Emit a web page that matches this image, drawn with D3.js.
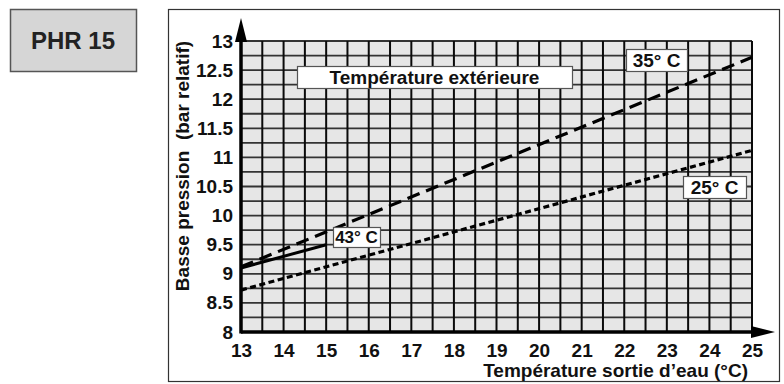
<!DOCTYPE html>
<html>
<head>
<meta charset="utf-8">
<script src="https://cdn.jsdelivr.net/npm/d3@7"></script>
<style>
body { margin: 0; background: #fff; }
text { font-family: "Liberation Sans", Arial, sans-serif; font-weight: bold; }
</style>
</head>
<body>
<svg class="chart" width="784" height="384"></svg>
<script>
// x ticks (water outlet temperature) and y ticks (low pressure)
var xTicks = [13, 14, 15, 16, 17, 18, 19, 20, 21, 22, 23, 24, 25];
var yTicks = [8, 8.5, 9, 9.5, 10, 10.5, 11, 11.5, 12, 12.5, 13];

// outdoor temperature curves
var line35 = [[13, 9.12], [25, 12.72]];
var line25 = [[13, 8.72], [25, 11.12]];
var line43 = [[13, 9.1], [15, 9.5]];

var pL = 241, pR = 752, pT = 41, pB = 332;

var x = d3.scaleLinear().domain([13, 25]).range([pL, pR]);
var y = d3.scaleLinear().domain([8, 13]).range([pB, pT]);

var svg = d3.select('.chart');

// title box
svg.append('rect')
    .attr('x', 10.5).attr('y', 9.5).attr('width', 126).attr('height', 62)
    .style('fill', '#d6d6d6').style('stroke', '#555').style('stroke-width', 1.5);
svg.append('text')
    .attr('x', 73).attr('y', 49)
    .attr('text-anchor', 'middle')
    .style('font-size', '24px').style('fill', '#222')
    .text('PHR 15');

// frame
svg.append('rect')
    .attr('x', 168.5).attr('y', 9.5).attr('width', 611).attr('height', 372)
    .style('fill', 'none').style('stroke', '#333').style('stroke-width', 1.2);

// plot background
svg.append('rect')
    .attr('x', pL).attr('y', pT)
    .attr('width', pR - pL).attr('height', pB - pT)
    .style('fill', '#e6e6e6');

// grid
var g = svg.append('g');
g.selectAll('.hgrid')
    .data(d3.range(8, 13.01, 0.25))
    .enter().append('line')
    .attr('x1', pL).attr('x2', pR)
    .attr('y1', function(d) { return y(d); })
    .attr('y2', function(d) { return y(d); })
    .style('stroke', '#333').style('stroke-width', 1.8);
g.selectAll('.vgrid')
    .data(d3.range(13, 25.01, 0.5))
    .enter().append('line')
    .attr('x1', function(d) { return x(d); })
    .attr('x2', function(d) { return x(d); })
    .attr('y1', pT).attr('y2', pB)
    .style('stroke', '#0a0a0a').style('stroke-width', 2);

// axes
var xAxis = d3.axisBottom(x).tickValues(xTicks).tickSize(0).tickPadding(12)
    .tickFormat(d3.format('d'));
svg.append('g')
    .attr('transform', 'translate(0,' + pB + ')')
    .call(xAxis)
    .call(function(s) {
        s.select('.domain').remove();
        s.selectAll('text').style('font-size', '19px').style('fill', '#111')
            .style('font-family', '"Liberation Sans", Arial, sans-serif');
    });

var yAxis = d3.axisLeft(y).tickValues(yTicks).tickSize(0).tickPadding(8)
    .tickFormat(function(d) { return d; });
svg.append('g')
    .attr('transform', 'translate(' + pL + ',0)')
    .call(yAxis)
    .call(function(s) {
        s.select('.domain').remove();
        s.selectAll('text').style('font-size', '19px').style('fill', '#111')
            .style('font-family', '"Liberation Sans", Arial, sans-serif');
    });

// axis lines with arrows
svg.append('line')
    .attr('x1', pL).attr('x2', pL).attr('y1', pB + 1.5).attr('y2', pT)
    .style('stroke', '#000').style('stroke-width', 3.5);
svg.append('line')
    .attr('x1', pL).attr('x2', pR).attr('y1', pB).attr('y2', pB)
    .style('stroke', '#000').style('stroke-width', 3.5);
svg.append('path')
    .attr('d', 'M' + (pL - 6) + ',' + (pT + 1) + 'L' + pL + ',' + (pT - 23) + 'L' + (pL + 6) + ',' + (pT + 1) + 'Z')
    .style('fill', '#000');
svg.append('path')
    .attr('d', 'M' + (pR - 1) + ',' + (pB - 6) + 'L' + (pR + 23) + ',' + pB + 'L' + (pR - 1) + ',' + (pB + 6) + 'Z')
    .style('fill', '#000');

// curves
var line = d3.line()
    .x(function(d) { return x(d[0]); })
    .y(function(d) { return y(d[1]); });

svg.append('path').datum(line35).attr('d', line)
    .style('fill', 'none').style('stroke', '#000').style('stroke-width', 3.2)
    .style('stroke-dasharray', '13,7');
svg.append('path').datum(line25).attr('d', line)
    .style('fill', 'none').style('stroke', '#000').style('stroke-width', 3.2)
    .style('stroke-dasharray', '6,3.5');
svg.append('path').datum(line43).attr('d', line)
    .style('fill', 'none').style('stroke', '#000').style('stroke-width', 3);

// labels
function box(x0, y0, w, h, txt, size) {
    svg.append('rect')
        .attr('x', x0 + 0.5).attr('y', y0 + 0.5).attr('width', w).attr('height', h)
        .style('fill', '#fff').style('stroke', '#555').style('stroke-width', 1.2);
    svg.append('text')
        .attr('x', x0 + w / 2).attr('y', y0 + h / 2 + size * 0.36)
        .attr('text-anchor', 'middle')
        .style('font-size', size + 'px').style('fill', '#111')
        .text(txt);
}
box(297, 66, 275, 22, 'Température extérieure', 19);
box(626, 49, 61, 22, '35° C', 19);
box(683, 176, 63, 22, '25° C', 19);
box(333, 227, 47, 20, '43° C', 17);

// axis titles
svg.append('text')
    .attr('x', 748).attr('y', 377)
    .attr('text-anchor', 'end')
    .style('font-size', '19px').style('fill', '#111')
    .text('Température sortie d\u2019eau (°C)');
svg.append('text')
    .attr('transform', 'translate(189,166) rotate(-90)')
    .attr('text-anchor', 'middle')
    .style('font-size', '19px').style('fill', '#111')
    .style('white-space', 'pre')
    .text('Basse pression  (bar relatif)');
</script>
</body>
</html>
